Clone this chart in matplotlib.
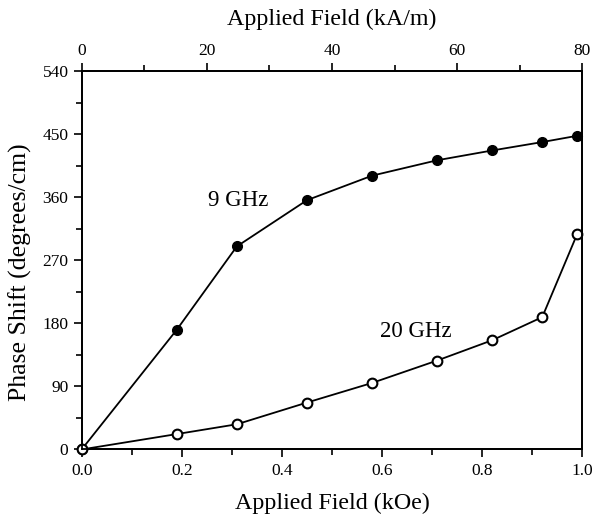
import matplotlib.pyplot as plt
from matplotlib.ticker import MultipleLocator

# applied field (kOe) and phase shift (degrees/cm)
field_koe = [0.0, 0.19, 0.31, 0.45, 0.58, 0.71, 0.82, 0.92, 0.99]
shift_9ghz = [0, 171, 290, 356, 391, 413, 427, 439, 448]
shift_20ghz = [0, 22, 36, 67, 95, 127, 156, 189, 308]

plt.rcParams['font.family'] = ['Liberation Serif', 'DejaVu Serif']

fig = plt.figure(figsize=(5.96, 5.17), dpi=100)
ax = fig.add_axes([0.137, 0.1306, 0.84, 0.7314])

ax.plot(field_koe, shift_9ghz, color='black', linewidth=1.3,
        marker='o', markersize=7, markerfacecolor='black',
        markeredgecolor='black', clip_on=False, zorder=3)
ax.plot(field_koe, shift_20ghz, color='black', linewidth=1.3,
        marker='o', markersize=7, markerfacecolor='white',
        markeredgecolor='black', markeredgewidth=1.5, clip_on=False, zorder=3)

ax.text(0.252, 356, '9 GHz', fontsize=16.5, ha='left', va='center')
ax.text(0.668, 168, '20 GHz', fontsize=16.5, ha='center', va='center')

ax.set_xlim(0, 1.0)
ax.set_ylim(0, 540)
ax.xaxis.set_major_locator(MultipleLocator(0.2))
ax.xaxis.set_minor_locator(MultipleLocator(0.1))
ax.yaxis.set_major_locator(MultipleLocator(90))
ax.yaxis.set_minor_locator(MultipleLocator(45))
ax.xaxis.set_major_formatter(plt.FuncFormatter(lambda v, p: f'{v:.1f}'))

ax.tick_params(which='both', direction='out', labelsize=12.5, width=1.2)
ax.tick_params(which='major', length=6)
ax.tick_params(which='minor', length=4)
ax.tick_params(axis='x', pad=4)

ax.set_xlabel('Applied Field (kOe)', fontsize=17.3, labelpad=10)
ax.set_ylabel('Phase Shift (degrees/cm)', fontsize=18.5)
ax.yaxis.set_label_coords(-0.099, 0.47)

top = ax.twiny()
top.set_xlim(0, 80)
top.xaxis.set_major_locator(MultipleLocator(20))
top.xaxis.set_minor_locator(MultipleLocator(10))
top.tick_params(which='both', direction='out', labelsize=12.5, width=1.2, pad=3)
top.tick_params(which='major', length=6)
top.tick_params(which='minor', length=4)
top.set_xlabel('Applied Field (kA/m)', fontsize=17.3, labelpad=13)

for a in (ax, top):
    for s in a.spines.values():
        s.set_linewidth(1.3)

fig.savefig('out.png', dpi=100)
